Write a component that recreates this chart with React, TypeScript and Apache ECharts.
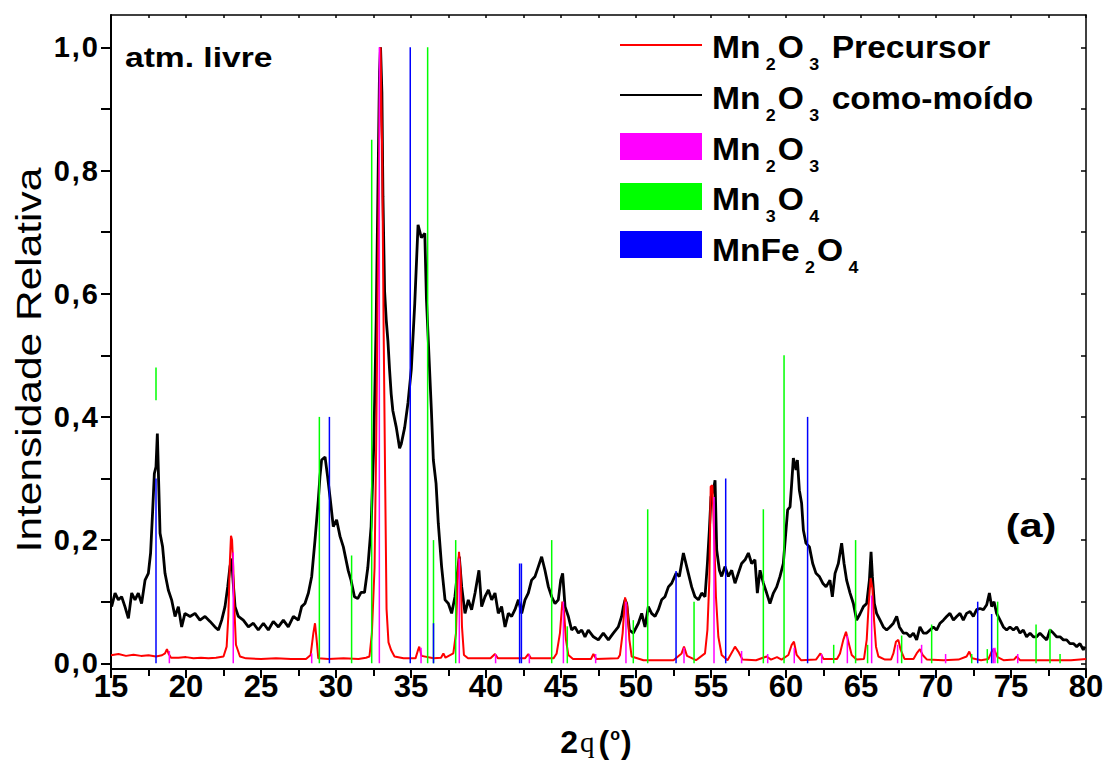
import React, { useEffect, useRef } from 'react';
import * as echarts from 'echarts';

const FONT = '"Liberation Sans", Arial, Helvetica, sans-serif';
const NARROW = '"Liberation Sans Narrow", "Arial Narrow", "Liberation Sans", Arial, sans-serif';

// axis values
const xMin = 15;
const xMax = 80;
const yMin = -0.0093;
const yMax = 1.0525;
const yLabelValues = [0, 0.2, 0.4, 0.6, 0.8, 1.0];
const yTickValues = [0, 0.1, 0.2, 0.3, 0.4, 0.5, 0.6, 0.7, 0.8, 0.9, 1.0];

// Mn2O3 como-moído (black)
const blackCurve: [number, number][] = [
  [15.04, 0.092], [15.27, 0.114], [15.49, 0.103], [15.71, 0.108], [15.93, 0.092], [16.16, 0.073],
  [16.38, 0.114], [16.6, 0.103], [16.82, 0.114], [17.04, 0.097], [17.27, 0.135], [17.49, 0.146],
  [17.64, 0.179], [17.78, 0.249], [17.89, 0.308], [18.0, 0.319], [18.09, 0.373], [18.18, 0.292],
  [18.27, 0.211], [18.44, 0.189], [18.6, 0.146], [18.82, 0.119], [19.04, 0.103], [19.27, 0.076],
  [19.49, 0.092], [19.71, 0.059], [19.93, 0.081], [20.27, 0.076], [20.6, 0.081], [20.93, 0.07],
  [21.27, 0.076], [21.6, 0.068], [21.93, 0.059], [22.16, 0.054], [22.38, 0.07], [22.6, 0.092],
  [22.78, 0.124], [22.93, 0.157], [23.04, 0.17], [23.15, 0.13], [23.27, 0.092], [23.49, 0.076],
  [23.82, 0.07], [24.16, 0.059], [24.49, 0.065], [24.82, 0.054], [25.16, 0.065], [25.49, 0.054],
  [25.82, 0.068], [26.16, 0.059], [26.49, 0.07], [26.82, 0.059], [27.16, 0.076], [27.49, 0.07],
  [27.71, 0.092], [27.93, 0.097], [28.16, 0.114], [28.38, 0.141], [28.6, 0.2], [28.82, 0.265],
  [28.93, 0.303], [29.04, 0.33], [29.27, 0.335], [29.44, 0.303], [29.6, 0.27], [29.82, 0.222],
  [30.04, 0.233], [30.27, 0.206], [30.49, 0.189], [30.82, 0.15], [31.0, 0.135], [31.23, 0.108],
  [31.45, 0.105], [31.67, 0.115], [31.9, 0.115], [32.12, 0.155], [32.34, 0.222], [32.52, 0.356],
  [32.68, 0.557], [32.79, 0.758], [32.9, 0.96], [32.97, 1.0], [33.06, 0.926], [33.13, 0.758],
  [33.24, 0.604], [33.35, 0.557], [33.46, 0.524], [33.57, 0.477], [33.68, 0.437], [33.79, 0.41],
  [34.02, 0.383], [34.24, 0.349], [34.35, 0.356], [34.58, 0.383], [34.8, 0.423], [35.02, 0.477],
  [35.25, 0.584], [35.47, 0.712], [35.69, 0.691], [35.92, 0.698], [36.03, 0.591], [36.14, 0.531],
  [36.36, 0.41], [36.49, 0.33], [36.67, 0.292], [36.82, 0.227], [37.04, 0.157], [37.27, 0.103],
  [37.49, 0.097], [37.71, 0.081], [37.93, 0.108], [38.09, 0.146], [38.22, 0.173], [38.38, 0.124],
  [38.6, 0.081], [38.82, 0.103], [39.04, 0.087], [39.27, 0.114], [39.53, 0.151], [39.71, 0.092],
  [39.93, 0.108], [40.16, 0.119], [40.38, 0.103], [40.6, 0.114], [40.82, 0.081], [41.04, 0.092],
  [41.27, 0.059], [41.49, 0.081], [41.71, 0.076], [41.93, 0.087], [42.16, 0.103], [42.38, 0.081],
  [42.6, 0.103], [42.82, 0.114], [43.04, 0.135], [43.27, 0.141], [43.49, 0.157], [43.71, 0.173],
  [43.93, 0.151], [44.16, 0.124], [44.38, 0.108], [44.6, 0.097], [44.82, 0.103], [44.98, 0.135],
  [45.11, 0.146], [45.27, 0.092], [45.49, 0.076], [45.71, 0.054], [45.93, 0.059], [46.16, 0.049],
  [46.38, 0.054], [46.6, 0.043], [46.82, 0.054], [47.16, 0.043], [47.49, 0.038], [47.82, 0.049],
  [48.16, 0.038], [48.49, 0.049], [48.82, 0.059], [49.04, 0.076], [49.16, 0.092], [49.27, 0.103],
  [49.38, 0.097], [49.56, 0.054], [49.82, 0.049], [50.16, 0.065], [50.38, 0.081], [50.6, 0.059],
  [50.82, 0.092], [51.04, 0.081], [51.27, 0.076], [51.49, 0.087], [51.71, 0.103], [51.93, 0.108],
  [52.16, 0.124], [52.38, 0.13], [52.67, 0.146], [52.89, 0.141], [53.16, 0.179], [53.33, 0.162],
  [53.49, 0.146], [53.71, 0.124], [53.93, 0.108], [54.16, 0.103], [54.38, 0.114], [54.6, 0.108],
  [54.76, 0.162], [54.89, 0.216], [55.0, 0.27], [55.16, 0.281], [55.27, 0.297], [55.38, 0.184],
  [55.56, 0.151], [55.71, 0.141], [55.93, 0.157], [56.16, 0.141], [56.38, 0.151], [56.6, 0.13],
  [56.82, 0.146], [57.04, 0.162], [57.27, 0.168], [57.49, 0.179], [57.71, 0.162], [57.93, 0.168],
  [58.09, 0.114], [58.27, 0.151], [58.49, 0.13], [58.71, 0.114], [58.93, 0.097], [59.16, 0.114],
  [59.38, 0.124], [59.6, 0.141], [59.82, 0.162], [59.93, 0.195], [60.11, 0.249], [60.27, 0.254],
  [60.38, 0.292], [60.49, 0.333], [60.67, 0.314], [60.76, 0.33], [60.89, 0.281], [61.04, 0.26],
  [61.16, 0.216], [61.33, 0.195], [61.56, 0.189], [61.78, 0.162], [62.0, 0.146], [62.22, 0.141],
  [62.45, 0.13], [62.67, 0.124], [62.93, 0.135], [63.09, 0.108], [63.27, 0.146], [63.49, 0.162],
  [63.71, 0.195], [63.87, 0.162], [64.04, 0.135], [64.27, 0.114], [64.49, 0.097], [64.71, 0.07],
  [64.93, 0.08], [65.16, 0.092], [65.38, 0.097], [65.56, 0.135], [65.67, 0.181], [65.76, 0.141],
  [65.89, 0.097], [66.04, 0.081], [66.27, 0.07], [66.49, 0.059], [66.71, 0.054], [66.93, 0.059],
  [67.16, 0.065], [67.38, 0.076], [67.56, 0.059], [67.82, 0.049], [68.04, 0.049], [68.27, 0.043],
  [68.49, 0.049], [68.71, 0.038], [68.93, 0.059], [69.16, 0.049], [69.38, 0.049], [69.6, 0.054],
  [69.82, 0.059], [70.04, 0.054], [70.27, 0.065], [70.49, 0.07], [70.71, 0.076], [70.93, 0.081],
  [71.16, 0.07], [71.38, 0.076], [71.6, 0.081], [71.82, 0.07], [72.04, 0.081], [72.27, 0.084],
  [72.49, 0.076], [72.71, 0.087], [72.93, 0.089], [73.16, 0.087], [73.38, 0.095], [73.56, 0.114],
  [73.71, 0.092], [73.87, 0.1], [74.04, 0.081], [74.27, 0.07], [74.49, 0.059], [74.71, 0.054],
  [74.93, 0.059], [75.16, 0.054], [75.38, 0.059], [75.6, 0.049], [75.82, 0.054], [76.04, 0.043],
  [76.27, 0.049], [76.49, 0.043], [76.71, 0.043], [76.93, 0.049], [77.16, 0.043], [77.38, 0.038],
  [77.6, 0.054], [77.82, 0.049], [78.04, 0.043], [78.27, 0.043], [78.49, 0.038], [78.71, 0.038],
  [78.93, 0.032], [79.16, 0.032], [79.38, 0.027], [79.6, 0.032], [79.82, 0.022], [79.93, 0.027],
];

// Mn2O3 Precursor (red)
const redCurve: [number, number][] = [
  [15.0, 0.013], [15.5, 0.015], [16.0, 0.012], [16.5, 0.014], [17.0, 0.012], [17.5, 0.013],
  [18.0, 0.011], [18.4, 0.013], [18.6, 0.016], [18.73, 0.023], [18.85, 0.015], [19.0, 0.009],
  [19.5, 0.009], [20.0, 0.01], [20.5, 0.008], [21.0, 0.009], [21.5, 0.008], [22.0, 0.009],
  [22.5, 0.011], [22.71, 0.027], [22.82, 0.076], [22.93, 0.168], [23.0, 0.207], [23.07, 0.2],
  [23.15, 0.157], [23.22, 0.092], [23.33, 0.03], [23.6, 0.011], [24.0, 0.008], [25.0, 0.007],
  [26.0, 0.008], [27.0, 0.007], [28.0, 0.007], [28.31, 0.0135], [28.49, 0.049], [28.6, 0.065],
  [28.71, 0.038], [28.82, 0.008], [29.5, 0.007], [30.5, 0.008], [31.5, 0.007], [32.0, 0.009],
  [32.23, 0.011], [32.39, 0.048], [32.57, 0.155], [32.68, 0.356], [32.79, 0.624], [32.9, 0.893],
  [32.97, 1.0], [33.08, 0.826], [33.17, 0.557], [33.28, 0.289], [33.37, 0.088], [33.5, 0.034],
  [33.68, 0.021], [33.9, 0.011], [34.5, 0.008], [35.3, 0.008], [35.45, 0.02], [35.55, 0.027],
  [35.7, 0.012], [36.5, 0.008], [37.0, 0.009], [37.16, 0.016], [37.3, 0.009], [37.82, 0.016],
  [38.0, 0.049], [38.09, 0.124], [38.2, 0.181], [38.31, 0.146], [38.4, 0.059], [38.53, 0.0135],
  [38.8, 0.008], [40.3, 0.008], [40.6, 0.015], [40.8, 0.008], [42.6, 0.008], [42.82, 0.015],
  [43.0, 0.008], [44.5, 0.008], [44.71, 0.016], [44.93, 0.049], [45.09, 0.1], [45.2, 0.085],
  [45.33, 0.038], [45.49, 0.0135], [45.8, 0.007], [47.0, 0.007], [47.16, 0.015], [47.35, 0.007],
  [48.8, 0.008], [48.93, 0.0135], [49.11, 0.049], [49.27, 0.107], [49.42, 0.092], [49.56, 0.038],
  [49.71, 0.011], [50.5, 0.005], [51.5, 0.005], [52.5, 0.005], [53.04, 0.016], [53.2, 0.027],
  [53.4, 0.012], [54.0, 0.005], [54.6, 0.016], [54.76, 0.054], [54.89, 0.135], [54.98, 0.287],
  [55.09, 0.289], [55.2, 0.216], [55.33, 0.108], [55.49, 0.043], [55.71, 0.0135], [56.1, 0.005],
  [56.49, 0.022], [56.6, 0.027], [56.82, 0.019], [57.1, 0.006], [58.0, 0.005], [58.71, 0.011],
  [59.0, 0.006], [59.4, 0.01], [59.7, 0.006], [60.16, 0.0135], [60.38, 0.03], [60.53, 0.035],
  [60.71, 0.0135], [61.0, 0.005], [62.0, 0.006], [62.22, 0.0135], [62.3, 0.016], [62.5, 0.007],
  [63.4, 0.007], [63.6, 0.016], [63.82, 0.038], [64.0, 0.051], [64.13, 0.038], [64.38, 0.0135],
  [64.7, 0.006], [65.2, 0.007], [65.38, 0.038], [65.51, 0.095], [65.64, 0.138], [65.76, 0.122],
  [65.87, 0.07], [66.0, 0.027], [66.16, 0.011], [66.6, 0.006], [67.0, 0.006], [67.16, 0.016],
  [67.33, 0.035], [67.49, 0.038], [67.64, 0.022], [67.9, 0.007], [68.5, 0.007], [68.71, 0.016],
  [68.93, 0.023], [69.11, 0.0135], [69.4, 0.006], [70.5, 0.005], [71.5, 0.006], [72.04, 0.011],
  [72.22, 0.019], [72.4, 0.008], [73.0, 0.005], [73.5, 0.007], [73.71, 0.019], [73.87, 0.023],
  [74.1, 0.01], [74.5, 0.005], [75.2, 0.006], [75.38, 0.011], [75.6, 0.005], [77.0, 0.005],
  [78.0, 0.005], [79.0, 0.005], [80.0, 0.007],
];

// reference sticks [2theta, relative intensity]
const mn2o3Sticks: [number, number][] = [
  [18.89, 0.02], [23.15, 0.18], [28.38, 0.016], [32.89, 1.0], [35.67, 0.025], [38.22, 0.17],
  [40.64, 0.015], [42.89, 0.015], [45.16, 0.1], [47.31, 0.015], [49.33, 0.1], [53.2, 0.025],
  [55.2, 0.27], [57.04, 0.02], [58.78, 0.015], [60.55, 0.025], [62.38, 0.015], [64.09, 0.045],
  [65.71, 0.11], [67.44, 0.03], [69.04, 0.03], [70.64, 0.015], [73.82, 0.025], [73.93, 0.025],
  [75.45, 0.015],
];
const mn3o4Sticks: [number, number][] = [
  [28.89, 0.4], [31.04, 0.175], [32.38, 0.85], [36.11, 1.0], [36.5, 0.2], [37.98, 0.2],
  [44.38, 0.2], [45.42, 0.06], [49.82, 0.07], [50.78, 0.25], [53.87, 0.1], [58.49, 0.25],
  [59.87, 0.5], [63.18, 0.03], [64.64, 0.2], [65.44, 0.03], [67.71, 0.045], [69.71, 0.063],
  [72.38, 0.015], [73.42, 0.023], [74.11, 0.1], [76.67, 0.063], [77.6, 0.056], [78.27, 0.015],
];
// [2theta, from, to] segment drawn above the 18° peak
const mn3o4Segments: [number, number, number][] = [[18.0, 0.427, 0.48]];
const mnfe2o4Sticks: [number, number][] = [
  [18.0, 0.3], [29.56, 0.4], [34.95, 1.0], [36.5, 0.065], [42.24, 0.162], [42.36, 0.162],
  [52.67, 0.15], [55.98, 0.3], [61.44, 0.4], [72.78, 0.1], [73.71, 0.08],
];

const sub = (size: number, pad: number[]) => ({
  fontSize: size, fontWeight: 'bold', fontFamily: FONT, color: '#000', lineHeight: 40, padding: pad,
});
const legendRich = {
  n: { fontSize: 32, fontWeight: 'bold', fontFamily: FONT, color: '#000', lineHeight: 40 },
  s: sub(17, [35, 2, 0, 5]),
  se: sub(17, [35, 12, 0, 5]),
};

function stickSeries(name: string, data: number[][], color: string, z: number) {
  return {
    type: 'custom',
    name,
    data,
    z,
    silent: true,
    clip: true,
    encode: { x: 0, y: 2 },
    renderItem: (_p: any, api: any) => {
      const x = api.value(0);
      const p0 = api.coord([x, api.value(1)]);
      const p1 = api.coord([x, api.value(2)]);
      return {
        type: 'line',
        shape: { x1: p0[0], y1: p0[1], x2: p1[0], y2: p1[1] },
        style: { stroke: color, lineWidth: 1.5 },
      };
    },
  };
}

export default function App() {
  const ref = useRef<HTMLDivElement>(null);
  useEffect(() => {
    if (!ref.current) return;
    const chart = echarts.init(ref.current, undefined, { renderer: 'svg' });
    const axisLineStyle = { color: '#000', width: 2 };
    const legendX = 620;
    const legendW = 82;
    const textX = 712;
    const legendScale = 1.05;
    chart.setOption({
      animation: false,
      backgroundColor: '#fff',
      grid: { left: 111, right: 17, top: 15, bottom: 93, containLabel: false, outerBoundsMode: 'none' },
      xAxis: [
        {
          type: 'value', min: xMin, max: xMax, interval: 5, position: 'bottom',
          axisLine: { show: true, onZero: false, lineStyle: axisLineStyle },
          axisTick: { show: true, inside: false, length: 9, lineStyle: axisLineStyle },
          minorTick: { show: true, splitNumber: 2, length: 7, lineStyle: axisLineStyle },
          splitLine: { show: false }, minorSplitLine: { show: false },
          axisLabel: { color: '#000', fontSize: 31, fontWeight: 'bold', fontFamily: NARROW, margin: 2 },
        },
        {
          type: 'value', min: xMin, max: xMax, interval: 5, position: 'top',
          axisLine: { show: true, onZero: false, lineStyle: { color: '#000', width: 1.5 } },
          axisTick: { show: true, inside: true, length: 3, lineStyle: { color: '#000', width: 1.5 } },
          minorTick: { show: true, splitNumber: 2, length: 3, lineStyle: { color: '#000', width: 1.5 } },
          splitLine: { show: false }, axisLabel: { show: false },
        },
      ],
      yAxis: [
        {
          type: 'value', min: yMin, max: yMax, position: 'left',
          axisLine: { show: true, onZero: false, lineStyle: axisLineStyle },
          axisTick: { show: true, inside: false, length: 10, customValues: yTickValues, lineStyle: axisLineStyle },
          splitLine: { show: false },
          axisLabel: {
            customValues: yLabelValues, margin: 13,
            formatter: (v: number) => {
              const [a, b] = v.toFixed(1).split('.');
              return `{d|${a}}{c|,}{d|${b}}`;
            },
            rich: {
              d: { color: '#000', fontSize: 29, fontWeight: 'bold', fontFamily: FONT },
              c: { color: '#000', fontSize: 29, fontWeight: 'bold', fontFamily: FONT, padding: [0, 2, 0, 2] },
            },
          },
        },
        {
          type: 'value', min: yMin, max: yMax, position: 'right',
          axisLine: { show: true, onZero: false, lineStyle: { color: '#000', width: 1.5 } },
          axisTick: { show: true, inside: true, length: 5, customValues: yTickValues, lineStyle: { color: '#000', width: 1.5 } },
          splitLine: { show: false }, axisLabel: { show: false },
        },
      ],
      series: [
        {
          type: 'line', name: 'Mn2O3 como-moído', data: blackCurve, showSymbol: false, symbol: 'none',
          lineStyle: { color: '#000', width: 2.8 }, z: 2, clip: true,
        },
        {
          type: 'line', name: 'Mn2O3 Precursor', data: redCurve, showSymbol: false, symbol: 'none',
          lineStyle: { color: '#ff0000', width: 2 }, z: 3, clip: true,
        },
        stickSeries('Mn3O4', mn3o4Sticks.map(([x, h]) => [x, 0, h]).concat(mn3o4Segments), '#00ff00', 4),
        stickSeries('Mn2O3', mn2o3Sticks.map(([x, h]) => [x, 0, h]), '#ff00ff', 5),
        stickSeries('MnFe2O4', mnfe2o4Sticks.map(([x, h]) => [x, 0, h]), '#0000ff', 6),
      ],
      graphic: [
        // legend
        { type: 'line', shape: { x1: legendX, y1: 45, x2: legendX + legendW, y2: 45 }, style: { stroke: '#ff0000', lineWidth: 2 } },
        { type: 'text', x: textX, y: 47, scaleX: legendScale, style: { text: '{n|Mn}{s|2}{n|O}{se|3}{n|Precursor}', rich: legendRich, verticalAlign: 'middle', align: 'left' } },
        { type: 'line', shape: { x1: legendX, y1: 95, x2: legendX + legendW, y2: 95 }, style: { stroke: '#000', lineWidth: 2 } },
        { type: 'text', x: textX, y: 97.5, scaleX: legendScale, style: { text: '{n|Mn}{s|2}{n|O}{se|3}{n|como-moído}', rich: legendRich, verticalAlign: 'middle', align: 'left' } },
        { type: 'rect', shape: { x: legendX, y: 133, width: legendW, height: 27 }, style: { fill: '#ff00ff' } },
        { type: 'text', x: textX, y: 149, scaleX: legendScale, style: { text: '{n|Mn}{s|2}{n|O}{s|3}', rich: legendRich, verticalAlign: 'middle', align: 'left' } },
        { type: 'rect', shape: { x: legendX, y: 183, width: legendW, height: 27 }, style: { fill: '#00ff00' } },
        { type: 'text', x: textX, y: 199, scaleX: legendScale, style: { text: '{n|Mn}{s|3}{n|O}{s|4}', rich: legendRich, verticalAlign: 'middle', align: 'left' } },
        { type: 'rect', shape: { x: legendX, y: 231, width: legendW, height: 27 }, style: { fill: '#0000ff' } },
        { type: 'text', x: textX, y: 250, scaleX: legendScale, style: { text: '{n|MnFe}{s|2}{n|O}{s|4}', rich: legendRich, verticalAlign: 'middle', align: 'left' } },
        // annotations
        { type: 'text', x: 125, y: 57, scaleX: 1.2, style: { text: 'atm. livre', fontSize: 28, fontWeight: 'bold', fontFamily: FONT, fill: '#000', verticalAlign: 'middle', align: 'left' } },
        { type: 'text', x: 1031, y: 525, scaleX: 1.22, style: { text: '(a)', fontSize: 34, fontWeight: 'bold', fontFamily: FONT, fill: '#000', verticalAlign: 'middle', align: 'center' } },
        // axis titles
        {
          type: 'text', x: 28, y: 360, rotation: Math.PI / 2, scaleX: 1.18,
          style: { text: 'Intensidade Relativa', fontSize: 36, fontFamily: FONT, fill: '#000', verticalAlign: 'middle', align: 'center' },
        },
        {
          type: 'text', x: 596, y: 742,
          style: {
            text: '{b|2}{q|q}{b|(}{sup|o}{b|)}', align: 'center', verticalAlign: 'middle',
            rich: {
              b: { fontSize: 32, fontWeight: 'bold', fontFamily: NARROW, color: '#000', lineHeight: 32 },
              q: { fontSize: 29, fontFamily: '"Liberation Serif", "Times New Roman", serif', color: '#000', lineHeight: 32, padding: [0, 4, 0, 2] },
              sup: { fontSize: 16, fontWeight: 'bold', fontFamily: FONT, color: '#000', lineHeight: 32, padding: [0, 1, 16, 1] },
            },
          },
        },
      ],
    });
    return () => chart.dispose();
  }, []);
  return <div ref={ref} style={{ position: 'fixed', left: 0, top: 0, width: 1103, height: 762 }} />;
}
